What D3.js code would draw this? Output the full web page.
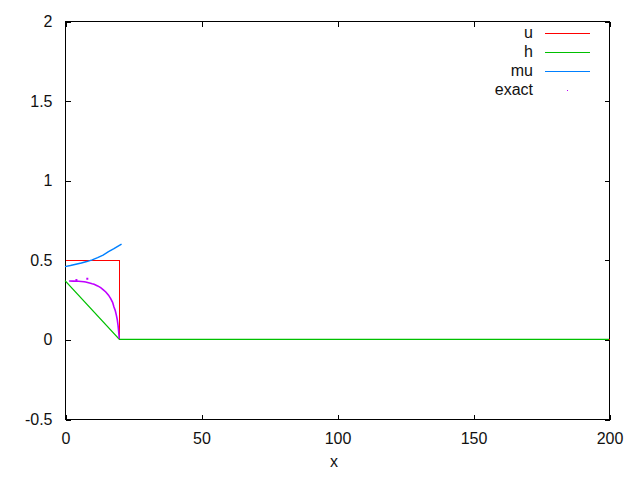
<!DOCTYPE html>
<html>
<head>
<meta charset="utf-8">
<script src="https://cdn.jsdelivr.net/npm/d3@7"></script>
<style>
  html, body { margin: 0; padding: 0; background: #fff; }
  text { font-family: "Liberation Sans", Arial, sans-serif; font-size: 16px; fill: #111; }
</style>
</head>
<body>
<svg id="chart" width="640" height="480"></svg>
<script>
// ---- data ----
const xTicks = [0, 50, 100, 150, 200];
const yTicks = [-0.5, 0, 0.5, 1, 1.5, 2];
const seriesNames = ["u", "h", "mu", "exact"];

const uX = [0, 20, 20, 200];
const uY = [0.5, 0.5, 0, 0];

const hX = [0, 20, 200];
const hY = [0.369, 0, 0];

const muX = [0, 2, 4, 6, 8, 10, 12, 14, 16, 18, 20, 20.8];
const muY = [0.457, 0.464, 0.472, 0.480, 0.489, 0.500, 0.514, 0.530, 0.551, 0.570, 0.591, 0.599];

const exactX = [1.5, 3, 5, 6, 7, 7.6, 9, 10, 10.7, 12, 13.1, 14, 15, 16, 16.8, 17.5, 18, 18.5, 18.9, 19.2, 19.5, 19.7, 19.85, 19.95];
const exactY = [0.367, 0.366, 0.365, 0.364, 0.362, 0.360, 0.354, 0.349, 0.346, 0.336, 0.325, 0.313, 0.298, 0.278, 0.256, 0.233, 0.204, 0.180, 0.151, 0.125, 0.088, 0.055, 0.026, 0.005];
const exactStrayX = [4.2, 8.2];
const exactStrayY = [0.373, 0.381];

const colors = { u: "#ff0000", h: "#00c000", mu: "#0080ff", exact: "#c000ff" };

// ---- layout ----
const L = 65, R = 609, T = 21, B = 419;
const svg = d3.select("#chart");
const x = d3.scaleLinear().domain([0, 200]).range([L, R]);
const y = d3.scaleLinear().domain([-0.5, 2]).range([B, T]);

// border
svg.append("rect").attr("x", L + 0.5).attr("y", T + 0.5)
  .attr("width", R - L).attr("height", B - T)
  .attr("fill", "none").attr("stroke", "#000").attr("stroke-width", 1)
  .attr("shape-rendering", "crispEdges");

// axes via d3 axis (ticks inside, mirrored)
const tl = 5;
function styleAxis(g) {
  g.select(".domain").remove();
  g.selectAll(".tick line").attr("stroke", "#000").attr("shape-rendering", "crispEdges");
}
svg.append("g").attr("transform", `translate(0.5,${B + 0.5})`)
  .call(d3.axisBottom(x).tickValues(xTicks).tickSize(-tl).tickFormat(d3.format("d")))
  .call(styleAxis)
  .call(g => g.selectAll(".tick text").attr("y", 0).attr("dy", null).attr("transform", "translate(0,24)")
    .style("font-size", "16px").style("font-family", "Liberation Sans, Arial, sans-serif").attr("fill", "#111"));
svg.append("g").attr("transform", `translate(0.5,${T + 0.5})`)
  .call(d3.axisTop(x).tickValues(xTicks).tickSize(-tl).tickFormat(""))
  .call(styleAxis);
svg.append("g").attr("transform", `translate(${L + 0.5},0.5)`)
  .call(d3.axisLeft(y).tickValues(yTicks).tickSize(-tl).tickFormat(d => d3.format("")(d).replace("−", "-")))
  .call(styleAxis)
  .call(g => g.selectAll(".tick text").attr("x", -13).attr("dy", null).attr("y", 5).attr("text-anchor", "end")
    .style("font-size", "16px").style("font-family", "Liberation Sans, Arial, sans-serif").attr("fill", "#111"));
svg.append("g").attr("transform", `translate(${R + 0.5},0.5)`)
  .call(d3.axisRight(y).tickValues(yTicks).tickSize(-tl).tickFormat(""))
  .call(styleAxis);

// x label
svg.append("text").attr("x", 334).attr("y", 467).attr("text-anchor", "middle").text("x");

// ---- series ----
const line = d3.line().x(d => x(d[0])).y(d => y(d[1]));
function drawSeries(xs, ys, color, w, crisp) {
  const p = svg.append("path").datum(xs.map((v, i) => [v, ys[i]]))
    .attr("d", line).attr("fill", "none").attr("stroke", color).attr("stroke-width", w);
  if (crisp) p.attr("shape-rendering", "crispEdges").attr("transform", "translate(0.5,0.5)");
}
drawSeries(uX, uY, colors.u, 1, true);
drawSeries(hX, hY, colors.h, 1.3, false);
drawSeries(muX, muY, colors.mu, 1.4, false);
drawSeries(exactX, exactY, colors.exact, 1.6, false);
svg.append("g").selectAll("rect").data(exactStrayX.map((v, i) => [v, exactStrayY[i]])).join("rect")
  .attr("x", d => x(d[0]) - 1).attr("y", d => y(d[1]) - 1).attr("width", 2).attr("height", 2)
  .attr("fill", colors.exact);

// ---- legend ----
const legY = d3.scaleLinear().domain([0, 1]).range([33.3, 52.3]);
seriesNames.forEach((name, i) => {
  const ly = legY(i);
  svg.append("text").attr("x", 533).attr("y", ly + 5).attr("text-anchor", "end").text(name);
  if (name === "exact") {
    svg.append("rect").attr("x", 567).attr("y", Math.round(ly)).attr("width", 1).attr("height", 1).attr("fill", colors.exact);
  } else {
    svg.append("line").attr("x1", 545).attr("x2", 590).attr("y1", Math.round(ly) + 0.5).attr("y2", Math.round(ly) + 0.5)
      .attr("stroke", colors[name]).attr("stroke-width", 1).attr("shape-rendering", "crispEdges");
  }
});
</script>
</body>
</html>
